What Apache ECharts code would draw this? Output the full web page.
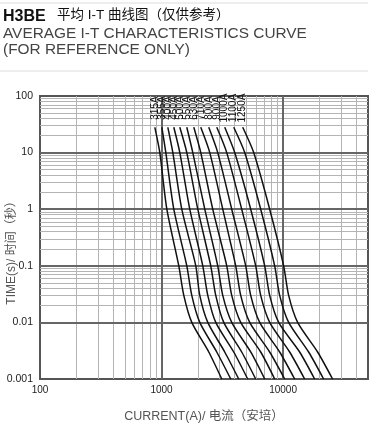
<!DOCTYPE html>
<html><head><meta charset="utf-8">
<script src="https://cdn.jsdelivr.net/npm/echarts@6/dist/echarts.min.js"></script>
<style>html,body{margin:0;padding:0;background:#fff}#c{width:382px;height:428px}</style>
</head><body><div id="c"></div>
<script>
// ---- data ----
const ratings = ['315A','355A','400A','450A','500A','550A','630A','710A','800A','900A','1000A','1100A','1250A'];
const times = [28, 10, 1, 0.1, 0.03, 0.01, 0.003, 0.001];
const c315  = [881, 968, 1106, 1387, 1525, 1774, 2447, 3131];
const c355  = [1006, 1085, 1262, 1614, 1774, 2064, 2848, 3711];
const c400  = [1127, 1239, 1468, 1914, 2064, 2402, 3313, 4317];
const c450  = [1262, 1414, 1708, 2185, 2402, 2794, 3927, 5118];
const c500  = [1414, 1614, 1988, 2541, 2794, 3251, 4568, 5956];
const c550  = [1614, 1808, 2269, 2901, 3190, 3782, 5417, 7061];
const c630  = [1843, 2103, 2639, 3440, 3782, 4483, 6546, 8531];
const c710  = [2103, 2494, 3190, 4078, 4483, 5316, 7761, 10309];
const c800  = [2447, 2901, 3782, 4928, 5417, 6423, 9378, 12454];
const c900  = [2848, 3440, 4568, 5956, 6546, 7761, 11330, 15047];
const c1000 = [3313, 4002, 5417, 7061, 7761, 9203, 13689, 18185];
const c1100 = [3927, 4836, 6546, 8531, 9378, 11117, 16233, 21560];
const c1250 = [4656, 5734, 7761, 10115, 11117, 13183, 19244, 25555];
const curves = [c315, c355, c400, c450, c500, c550, c630, c710, c800, c900, c1000, c1100, c1250];

const xTickValues = [100, 1000, 10000];
const xTickLabels = ['100', '1000', '10000'];
const yTickValues = [0.001, 0.01, 0.1, 1, 10, 100];
const yTickLabels = ['0.001', '0.01', '0.1', '1', '10', '100'];
const xMinorGrid = [200,300,400,500,600,700,800,900,2000,3000,4000,5000,6000,7000,8000,9000,20000,30000,40000];
const yMinorGrid = [0.002,0.003,0.004,0.005,0.006,0.007,0.008,0.009,
                    0.02,0.03,0.04,0.05,0.06,0.07,0.08,0.09,
                    0.2,0.3,0.4,0.5,0.6,0.7,0.8,0.9,
                    2,3,4,5,6,7,8,9,
                    20,30,40,50,60,70,80,90];
const xMajorGrid = [1000, 10000];
const yMajorGrid = [0.01, 0.1, 1, 10];

// ---- chart ----
const FONT = '"Liberation Sans", Arial, "Noto Sans CJK SC", sans-serif';
function lookup(v, vals, labels) {
  for (let i = 0; i < vals.length; i++) {
    if (Math.abs(Math.log10(v) - Math.log10(vals[i])) < 1e-6) return labels[i];
  }
  return '';
}
const chart = echarts.init(document.getElementById('c'), null, {renderer: 'canvas'});

const curveSeries = curves.map((cv, k) => ({
  type: 'line',
  name: ratings[k],
  smooth: 0.25,
  showSymbol: true,
  showAllSymbol: true,
  symbol: 'circle',
  symbolSize: 0.5,
  itemStyle: {color: '#111'},
  z: 5,
  lineStyle: {color: '#111', width: 1.5},
  label: {show: false},
  labelLayout: {hideOverlap: false},
  data: times.map((t, i) => i === 0 ? {
    value: [cv[i], t],
    label: {
      show: true, formatter: ratings[k], position: 'top', distance: 19,
      rotate: 90, align: 'center', verticalAlign: 'middle',
      fontSize: 10, fontFamily: FONT, color: '#111'
    }
  } : [cv[i], t])
}));

chart.setOption({
  animation: false,
  backgroundColor: '#fff',
  grid: {left: 40, top: 96, right: 14, bottom: 49, show: true, borderColor: '#555', borderWidth: 2, backgroundColor: 'transparent'},
  xAxis: {
    type: 'log', logBase: 10, min: 100, max: 50000,
    axisLine: {show: false}, axisTick: {show: false}, splitLine: {show: false},
    axisLabel: {margin: 6, fontSize: 10, fontFamily: FONT, color: '#222',
      showMaxLabel: false, formatter: v => lookup(v, xTickValues, xTickLabels)},
    name: 'CURRENT(A)/ 电流（安培）', nameLocation: 'middle', nameGap: 31,
    nameTextStyle: {fontSize: 12.5, fontFamily: FONT, color: '#555'}
  },
  yAxis: {
    type: 'log', logBase: 10, min: 0.001, max: 100,
    axisLine: {show: false}, axisTick: {show: false}, splitLine: {show: false},
    axisLabel: {margin: 7, fontSize: 10.5, fontFamily: FONT, color: '#222',
      formatter: v => lookup(v, yTickValues, yTickLabels)}
  },
  graphic: [
    {type: 'line', shape: {x1: 0, y1: 3, x2: 368, y2: 3}, style: {stroke: '#dcdcdc', lineWidth: 1}},
    {type: 'line', shape: {x1: 0, y1: 71, x2: 368, y2: 71}, style: {stroke: '#dcdcdc', lineWidth: 1}},
    {type: 'text', left: 3, top: 9, style: {text: 'H3BE', font: 'bold 16px ' + FONT, fill: '#111'}},
    {type: 'text', left: 57, top: 9, style: {text: '平均 I-T 曲线图（仅供参考）', font: '13.5px ' + FONT, fill: '#111'}},
    {type: 'text', left: 3, top: 26, style: {text: 'AVERAGE I-T CHARACTERISTICS CURVE', font: '15.4px ' + FONT, fill: '#444'}},
    {type: 'text', left: 3, top: 42, style: {text: '(FOR REFERENCE ONLY)', font: '15.4px ' + FONT, fill: '#444'}},
    {type: 'text', x: 12, y: 250, rotation: Math.PI / 2,
      style: {text: 'TIME(s)/ 时间（秒）', font: '12px ' + FONT, fill: '#555', align: 'center', verticalAlign: 'middle'}}
  ],
  series: [
    {
      type: 'line', data: [], z: 1, silent: true,
      markLine: {silent: true, symbol: ['none', 'none'], animation: false, label: {show: false},
        lineStyle: {color: '#b4b4b4', width: 1, type: 'solid'},
        emphasis: {disabled: true},
        data: xMinorGrid.map(v => ({xAxis: v})).concat(yMinorGrid.map(v => ({yAxis: v})))}
    },
    {
      type: 'line', data: [], z: 2, silent: true,
      markLine: {silent: true, symbol: ['none', 'none'], animation: false, label: {show: false},
        lineStyle: {color: '#666', width: 2, type: 'solid'},
        emphasis: {disabled: true},
        data: xMajorGrid.map(v => ({xAxis: v})).concat(yMajorGrid.map(v => ({yAxis: v})))}
    }
  ].concat(curveSeries)
});
</script></body></html>
